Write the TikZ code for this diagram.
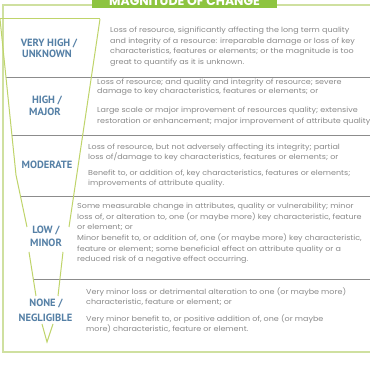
\documentclass[tikz,border=0pt]{standalone}
\usepackage{fontspec}
\setmainfont{Poppins}
\newfontfamily\bodyfont[FakeStretch=1.11]{Poppins}
\newfontfamily\labelfont{PT Sans}
\definecolor{bodygray}{HTML}{8A8A8A}
\definecolor{lblblue}{HTML}{5580A6}
\definecolor{framegreen}{HTML}{CFE0A0}
\definecolor{funnelgreen}{HTML}{BFD46A}
\definecolor{sepgray}{HTML}{8C8C8C}
\definecolor{titlegreen}{HTML}{8DC440}
\begin{document}
\begin{tikzpicture}[x=1pt,y=-1pt,
  body/.style={anchor=base west, inner sep=0pt, font=\bodyfont\fontsize{7.2}{8}\selectfont, text=bodygray},
  lbl/.style={anchor=base, inner sep=0pt, font=\labelfont\bfseries\fontsize{10.5}{12}\selectfont, text=lblblue},
  frameline/.style={draw=framegreen, line width=1.2pt},
  funnelline/.style={draw=funnelgreen, line width=1pt},
  sepline/.style={draw=sepgray, line width=0.6pt},
  titlebox/.style={fill=titlegreen, minimum width=185pt, minimum height=13pt, inner sep=0pt,
    text=white, font=\bfseries\fontsize{12.5}{14}\selectfont}]
\useasboundingbox (0,0) rectangle (370,366);
\clip (0,0) rectangle (370,366);
\fill[white] (0,0) rectangle (370,366);
% outer frame
\draw[frameline] (372,5) -- (3,5) -- (3,352) -- (372,352);
% title
\node[titlebox] (title) at (184.5,1.5) {MAGNITUDE OF CHANGE};
% separators
\draw[sepline] (5.9,77) -- (372,77);
\draw[sepline] (12,135.5) -- (372,135.5);
\draw[sepline] (20.4,196) -- (372,196);
\draw[sepline] (33.3,279) -- (372,279);
% funnel
\draw[funnelline] (0,19) -- (100,19);
\draw[funnelline] (0,19) -- (16,175) -- (27,227);
\draw[funnelline] (100,19) -- (69,227);
\draw[funnelline] (29,252) -- (36,296);
\draw[funnelline] (63,252) -- (58,296);
\draw[funnelline] (42,324) -- (47,342) -- (53,324);
% labels
\node[lbl] (l1a) at (49,46.5) {VERY HIGH /};
\node[lbl] (l1b) at (47,58) {UNKNOWN};
\node[lbl] (l2a) at (47,103.5) {HIGH /};
\node[lbl] (l2b) at (45,115.5) {MAJOR};
\node[lbl] (l3) at (47,168.5) {MODERATE};
\node[lbl] (l4a) at (46,233.5) {LOW /};
\node[lbl] (l4b) at (46,246.5) {MINOR};
\node[lbl] (l5a) at (46,306.5) {NONE /};
\node[lbl] (l5b) at (45.5,321.5) {NEGLIGIBLE};
% row 1
\node[body] (t1a) at (110,33) {Loss of resource, significantly affecting the long term quality};
\node[body] (t1b) at (110,43.5) {and integrity of a resource: irreparable damage or loss of key};
\node[body] (t1c) at (110,54) {characteristics, features or elements; or the magnitude is too};
\node[body] (t1d) at (110,64.5) {great to quantify as it is unknown.};
% row 2
\node[body] (t2a) at (97,85) {Loss of resource; and quality and integrity of resource; severe};
\node[body] (t2b) at (97,94) {damage to key characteristics, features or elements; or};
\node[body] (t2c) at (97,113) {Large scale or major improvement of resources quality; extensive};
\node[body] (t2d) at (97,123.5) {restoration or enhancement; major improvement of attribute quality};
% row 3
\node[body] (t3a) at (88,149.5) {Loss of resource, but not adversely affecting its integrity; partial};
\node[body] (t3b) at (88,159.5) {loss of/damage to key characteristics, features or elements; or};
\node[body] (t3c) at (88,175.5) {Benefit to, or addition of, key characteristics, features or elements;};
\node[body] (t3d) at (88,185.5) {improvements of attribute quality.};
% row 4
\node[body] (t4a) at (77,209) {Some measurable change in attributes, quality or vulnerability; minor};
\node[body] (t4b) at (77,219.5) {loss of, or alteration to, one (or maybe more) key characteristic, feature};
\node[body] (t4c) at (77,230) {or element; or};
\node[body] (t4d) at (77,241) {Minor benefit to, or addition of, one (or maybe more) key characteristic,};
\node[body] (t4e) at (77,251.5) {feature or element; some beneficial effect on attribute quality or a};
\node[body] (t4f) at (77,262) {reduced risk of a negative effect occurring.};
% row 5
\node[body] (t5a) at (86,295) {Very minor loss or detrimental alteration to one (or maybe more)};
\node[body] (t5b) at (86,305) {characteristic, feature or element; or};
\node[body] (t5c) at (86,322) {Very minor benefit to, or positive addition of, one (or maybe};
\node[body] (t5d) at (86,332) {more) characteristic, feature or element.};
\end{tikzpicture}
\end{document}
